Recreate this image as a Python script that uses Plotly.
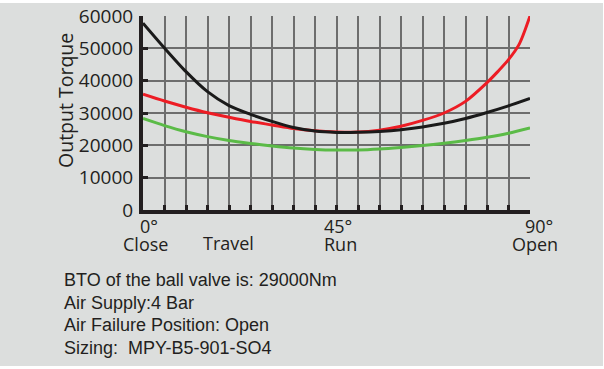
import plotly.graph_objects as go

# ---- data ----
angles = [0, 5, 10, 15, 20, 25, 30, 35, 40, 45, 50, 55, 60, 65, 70, 75, 80, 85, 90]
black_torque = [57800, 50100, 42800, 36600, 32300, 29600, 27400, 25500, 24400, 24000,
                24030, 24280, 24800, 25670, 26810, 28300, 30150, 32200, 34500]
red_angles = [0, 5, 10, 15, 20, 25, 30, 35, 40, 45, 50, 55, 60, 65, 70, 75, 80, 82.5, 85, 87.5, 90]
red_torque = [35800, 33700, 31800, 30100, 28700, 27400, 26300, 25200, 24500, 24150,
              24100, 24700, 25900, 27700, 30000, 33600, 39400, 42800, 46500, 51300, 60000]
green_torque = [28300, 26100, 24200, 22700, 21500, 20600, 19800, 19150, 18750, 18550,
                18550, 18850, 19350, 19950, 20650, 21500, 22500, 23750, 25400]
y_ticks = [0, 10000, 20000, 30000, 40000, 50000, 60000]
x_labels = [(0, "0°", "Close"), (45, "45°", "Run"), (90, "90°", "Open")]
info_lines = ["BTO of the ball valve is: 29000Nm", "Air Supply:4 Bar",
              "Air Failure Position: Open", "Sizing:  MPY-B5-901-SO4"]

W, H = 604, 369
L, R, T, B = 143, 530, 16, 210
def px(x):
    return (x - L) / (R - L)
def py(y):
    return (B - y) / (B - T)

TXT = "#231f20"
FONT = "Open Sans"

fig = go.Figure()
fig.add_trace(go.Scatter(x=angles, y=green_torque, mode="lines",
                         line=dict(color="#5bbb47", width=3, shape="spline", smoothing=0.8)))
fig.add_trace(go.Scatter(x=red_angles, y=red_torque, mode="lines",
                         line=dict(color="#ed1c24", width=3, shape="spline", smoothing=0.8)))
fig.add_trace(go.Scatter(x=angles, y=black_torque, mode="lines",
                         line=dict(color="#1a1a1a", width=3, shape="spline", smoothing=0.8)))

deg_x = {0: 149, 45: 338, 90: 539}
name_x = {0: 145, 45: 340, 90: 535}
annotations = []
for a, deg, name in x_labels:
    annotations.append(dict(x=px(deg_x[a]), xref="paper", y=py(225.5), yref="paper", text=deg, showarrow=False,
                            font=dict(family=FONT, size=18, color=TXT),
                            xanchor="center", yanchor="middle"))
    annotations.append(dict(x=px(name_x[a]), xref="paper", y=py(244), yref="paper", text=name, showarrow=False,
                            font=dict(family=FONT, size=18, color=TXT),
                            xanchor="center", yanchor="middle"))
annotations.append(dict(x=px(228), xref="paper", y=py(243), yref="paper", text="Travel", showarrow=False,
                        font=dict(family=FONT, size=18, color=TXT), xanchor="center", yanchor="middle"))
annotations.append(dict(x=px(65), xref="paper", y=py(101), yref="paper", text="Output Torque", showarrow=False,
                        textangle=-90, font=dict(family=FONT, size=19.5, color=TXT),
                        xanchor="center", yanchor="middle"))
for i, line in enumerate(info_lines):
    annotations.append(dict(x=px(62), xref="paper", y=py(280 + i * 22.5), yref="paper", text=line,
                            showarrow=False, font=dict(family="Liberation Sans", size=18, color=TXT),
                            xanchor="left", yanchor="middle"))

fig.update_layout(
    width=W, height=H,
    margin=dict(l=L, r=W - R, t=T, b=H - B, pad=0, autoexpand=False),
    paper_bgcolor="white", plot_bgcolor="rgba(0,0,0,0)",
    showlegend=False,
    annotations=annotations,
    shapes=[dict(type="rect", xref="paper", yref="paper", layer="below",
                 x0=px(0), x1=px(603), y0=py(366), y1=py(3),
                 fillcolor="#dcdedd", line=dict(width=0))],
    xaxis=dict(range=[0, 90], tickmode="linear", tick0=0, dtick=5, showticklabels=False,
               automargin=False,
               showgrid=True, gridcolor="#6d6d6d", gridwidth=1.5,
               ticks="inside", ticklen=5, tickwidth=3, tickcolor="#231f20",
               showline=True, linecolor="#231f20", linewidth=4, zeroline=False),
    yaxis=dict(range=[0, 60000], tickvals=y_ticks, ticktext=[str(v) for v in y_ticks],
               automargin=False,
               showgrid=True, gridcolor="#6d6d6d", gridwidth=1.5,
               ticks="inside", ticklen=5, tickwidth=3, tickcolor="#231f20",
               showline=True, linecolor="#231f20", linewidth=4, zeroline=False,
               tickfont=dict(family=FONT, size=19, color=TXT), ticklabelstandoff=2),
)

fig.write_html("out.html", config={"displayModeBar": False},
               post_script="document.body.style.margin='0';document.body.style.overflow='hidden';")
